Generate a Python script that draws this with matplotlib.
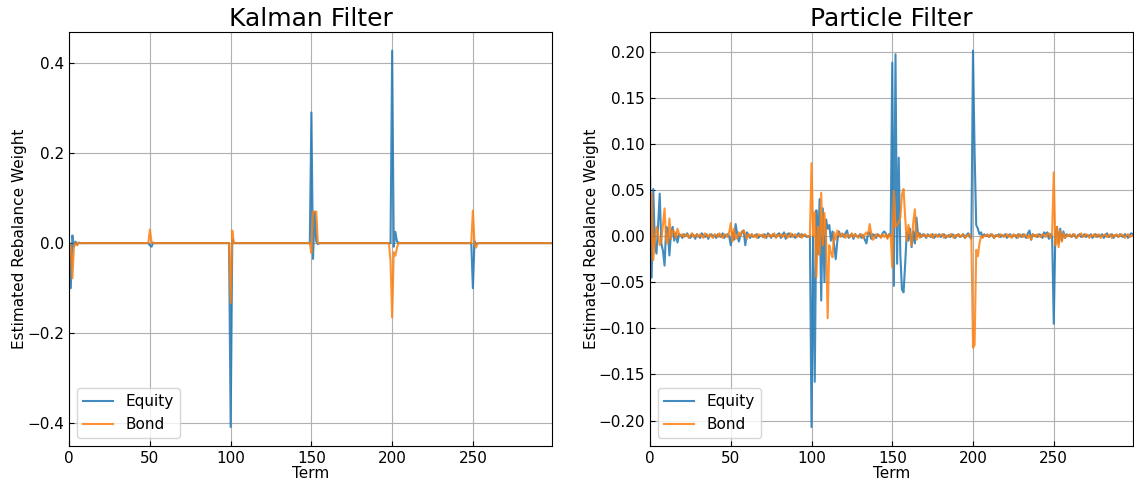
import numpy as np
import matplotlib
matplotlib.use("Agg")
import matplotlib.pyplot as plt

n_terms = 300
terms = np.arange(n_terms)

# Kalman filter: zero everywhere except around the rebalance dates
kalman_equity_spikes = {1: -0.100, 2: 0.017, 3: -0.008, 4: 0.003, 5: -0.003, 6: 0.001,
                        50: -0.005, 51: -0.008, 52: 0.001,
                        100: -0.408, 101: 0.008,
                        150: 0.290, 151: -0.035, 152: 0.070, 153: 0.004, 154: -0.002,
                        200: 0.427, 201: -0.008, 202: 0.025, 203: 0.003, 204: 0.001,
                        250: -0.100, 251: 0.004, 252: -0.003}
kalman_bond_spikes = {1: -0.010, 2: -0.078, 3: -0.004, 4: 0.000, 5: -0.005, 6: 0.001,
                      50: 0.030, 51: 0.002,
                      99: 0.000, 100: -0.133, 101: 0.028,
                      150: -0.022, 151: 0.070, 152: 0.068, 153: 0.070, 154: 0.000,
                      199: -0.040, 200: -0.165, 201: -0.020, 202: -0.028, 203: -0.010,
                      250: 0.072, 251: 0.000, 252: -0.010}

pf_equity = [
    0.066, -0.045, 0.051, -0.010, -0.019, 0.012, 0.046, -0.008, -0.016, -0.032,
    0.010, 0.008, -0.021, 0.004, 0.010, -0.005, 0.003, -0.007, 0.002, 0.001,
    -0.002, 0.002, 0.000, 0.003, -0.001, -0.002, 0.002, 0.001, -0.003, 0.002,
    0.000, -0.002, 0.003, 0.001, -0.001, 0.002, -0.003, 0.001, 0.002, -0.001,
    0.001, -0.002, 0.002, 0.000, -0.001, 0.003, -0.002, 0.001, 0.002, 0.000,
    -0.010, 0.004, -0.004, 0.013, 0.002, -0.006, 0.001, 0.005, 0.006, -0.010,
    0.004, 0.001, -0.002, 0.002, -0.001, 0.001, 0.002, -0.002, 0.000, 0.001,
    -0.001, 0.002, -0.002, 0.003, 0.001, -0.002, 0.002, 0.000, -0.001, 0.002,
    0.003, -0.002, 0.001, 0.004, -0.003, 0.002, 0.003, -0.001, 0.002, 0.000,
    -0.002, 0.001, 0.003, -0.001, 0.002, 0.000, 0.001, -0.001, 0.000, 0.000,
    -0.207, 0.000, -0.158, 0.028, -0.020, 0.040, -0.070, 0.030, -0.050, 0.018,
    0.008, 0.012, -0.005, 0.005, -0.010, -0.025, -0.005, 0.005, 0.000, 0.002,
    -0.001, 0.003, 0.006, -0.002, 0.001, 0.002, -0.003, 0.002, 0.000, -0.001,
    0.002, -0.002, 0.001, -0.004, -0.008, 0.003, 0.004, -0.003, 0.002, 0.001,
    -0.002, 0.002, 0.000, -0.001, 0.003, 0.005, 0.003, -0.002, 0.002, 0.000,
    0.188, -0.054, 0.197, -0.030, 0.085, -0.020, -0.058, -0.061, -0.030, 0.004,
    -0.005, 0.008, -0.012, 0.005, -0.008, 0.020, 0.000, 0.003, -0.001, 0.002,
    0.001, -0.002, 0.002, 0.000, -0.001, 0.002, -0.002, 0.001, 0.000, 0.002,
    -0.001, 0.001, 0.002, -0.002, 0.000, 0.001, -0.001, 0.002, 0.001, -0.002,
    0.001, 0.002, -0.001, 0.000, 0.002, -0.002, 0.001, 0.003, -0.001, -0.003,
    0.201, 0.090, 0.012, 0.008, 0.002, 0.004, -0.001, 0.002, 0.000, 0.001,
    -0.001, 0.002, 0.001, -0.002, 0.001, 0.000, 0.002, -0.001, 0.001, 0.000,
    0.002, -0.002, 0.001, 0.002, -0.001, 0.000, 0.001, -0.002, 0.002, 0.001,
    -0.001, 0.002, 0.000, -0.002, 0.003, 0.006, -0.004, 0.002, 0.000, 0.001,
    -0.001, 0.002, 0.001, -0.002, 0.004, 0.002, 0.004, -0.003, 0.002, 0.000,
    -0.095, 0.002, 0.010, -0.008, 0.008, -0.005, 0.005, -0.002, 0.002, 0.000,
    0.001, -0.001, 0.002, 0.000, -0.002, 0.001, 0.002, -0.001, 0.000, 0.002,
    -0.001, 0.001, 0.000, 0.002, -0.002, 0.001, 0.002, -0.001, 0.001, 0.000,
    0.002, -0.002, 0.001, 0.003, -0.001, 0.000, 0.002, -0.002, 0.001, 0.001,
    -0.001, 0.002, 0.000, -0.001, 0.002, 0.001, -0.002, 0.001, 0.003, 0.002,
]

pf_bond = [
    -0.034, 0.046, -0.026, -0.004, 0.010, 0.002, -0.010, -0.004, 0.012, 0.030,
    -0.005, -0.008, 0.019, -0.003, 0.006, 0.005, -0.002, 0.008, 0.002, 0.000,
    0.002, -0.001, 0.001, 0.002, -0.002, 0.001, 0.003, -0.001, 0.000, 0.002,
    -0.001, 0.002, 0.000, -0.002, 0.003, 0.001, -0.001, 0.002, 0.000, -0.002,
    0.002, 0.001, -0.001, 0.003, 0.000, -0.002, 0.002, 0.001, -0.001, 0.004,
    0.014, -0.006, 0.008, -0.003, -0.002, 0.004, 0.000, 0.004, 0.006, 0.002,
    -0.003, 0.002, 0.000, 0.002, -0.001, 0.001, -0.002, 0.002, 0.001, 0.000,
    0.002, -0.002, 0.001, 0.000, 0.002, -0.001, 0.001, 0.003, -0.002, 0.001,
    0.000, 0.002, -0.001, 0.001, 0.002, -0.002, 0.000, 0.003, -0.001, 0.001,
    0.002, -0.001, 0.000, 0.002, -0.002, 0.001, 0.002, 0.000, -0.001, 0.000,
    0.079, 0.000, 0.026, -0.045, 0.010, -0.020, 0.047, -0.010, 0.025, 0.000,
    -0.089, -0.010, -0.018, -0.023, 0.004, -0.004, 0.006, 0.002, -0.001, 0.003,
    0.001, -0.002, 0.002, 0.000, -0.001, 0.003, -0.001, 0.002, 0.000, -0.002,
    0.001, 0.002, -0.002, 0.002, 0.004, 0.001, 0.013, 0.003, -0.004, -0.002,
    0.002, 0.000, 0.001, -0.002, 0.002, -0.001, 0.002, -0.003, 0.002, 0.001,
    -0.034, 0.049, 0.010, 0.012, 0.015, 0.020, 0.045, 0.051, 0.020, -0.005,
    0.012, 0.003, -0.010, 0.015, 0.029, -0.004, 0.004, -0.002, 0.001, 0.000,
    0.002, -0.001, 0.001, 0.000, 0.002, -0.002, 0.001, 0.002, -0.001, 0.000,
    0.001, 0.002, -0.002, 0.001, 0.000, -0.001, 0.002, 0.001, -0.002, 0.001,
    0.000, 0.002, -0.001, 0.001, 0.002, -0.002, 0.000, 0.001, 0.002, -0.004,
    -0.121, -0.118, -0.015, -0.022, -0.008, 0.000, -0.002, 0.001, 0.000, 0.002,
    -0.001, 0.001, 0.002, -0.002, 0.000, 0.001, -0.001, 0.002, 0.001, -0.001,
    0.000, 0.002, -0.001, 0.001, -0.002, 0.002, 0.000, 0.001, -0.002, 0.002,
    0.001, -0.001, 0.002, 0.000, -0.002, 0.001, -0.004, 0.002, 0.001, -0.001,
    0.002, 0.000, -0.001, 0.002, 0.001, -0.001, 0.002, 0.003, -0.002, 0.002,
    0.069, -0.010, 0.010, -0.012, 0.006, -0.006, 0.003, -0.002, 0.001, 0.000,
    0.002, -0.001, 0.001, 0.002, -0.002, 0.000, 0.001, 0.003, -0.001, 0.000,
    0.002, 0.001, -0.002, 0.001, 0.000, 0.002, -0.001, 0.001, 0.002, -0.002,
    0.000, 0.001, 0.002, -0.001, 0.000, 0.002, -0.002, 0.001, 0.000, 0.002,
    -0.001, 0.001, 0.002, 0.000, -0.002, 0.001, 0.002, -0.001, 0.000, 0.001,
]


def from_spikes(spikes):
    series = np.zeros(n_terms)
    for t, v in spikes.items():
        series[t] = v
    return series


panels = [
    ("Kalman Filter", from_spikes(kalman_equity_spikes), from_spikes(kalman_bond_spikes)),
    ("Particle Filter", np.array(pf_equity), np.array(pf_bond)),
]

fig, axes = plt.subplots(1, 2, figsize=(11.34, 4.82), dpi=100)
fig.subplots_adjust(left=0.061, right=0.999, bottom=0.075, top=0.934, wspace=0.203)

for ax, (title, equity, bond) in zip(axes, panels):
    ax.plot(terms, equity, color="C0", lw=1.5, alpha=0.85, label="Equity")
    ax.plot(terms, bond, color="C1", lw=1.5, alpha=0.85, label="Bond")
    ax.set_xlim(0, n_terms - 1)
    ax.set_xticks([0, 50, 100, 150, 200, 250])
    ax.grid(True, color="#b0b0b0", lw=0.8)
    ax.tick_params(direction="in", labelsize=11)
    ax.set_title(title, fontsize=18, pad=4)
    ax.set_xlabel("Term", fontsize=11, labelpad=0)
    ax.set_ylabel("Estimated Rebalance Weight", fontsize=11, labelpad=0)
    ax.legend(loc="lower left", fontsize=11)

plt.savefig("out.png")
